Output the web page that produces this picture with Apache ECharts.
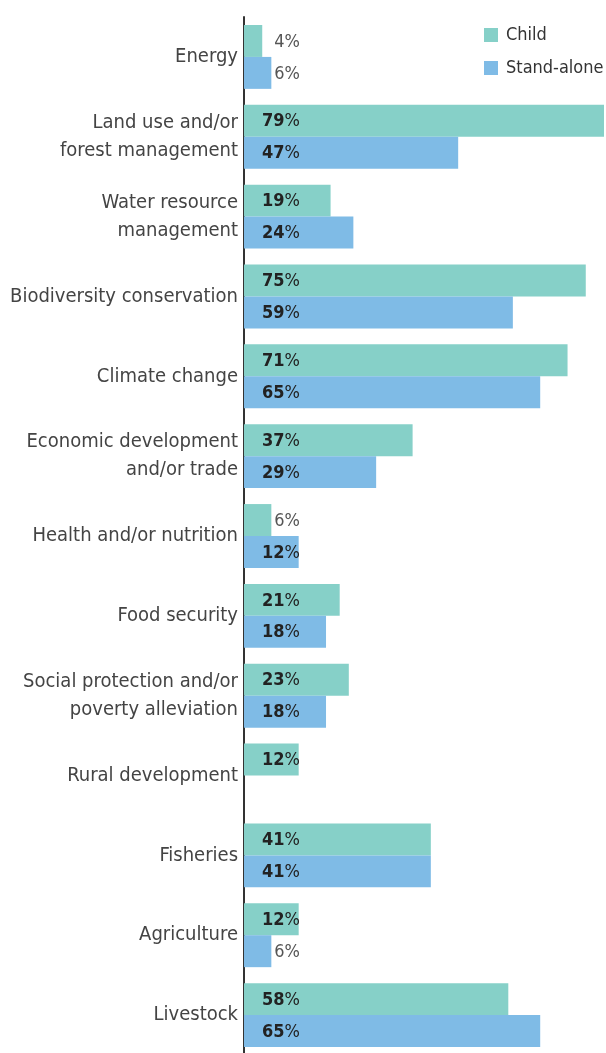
<!DOCTYPE html>
<html>
<head>
<meta charset="utf-8">
<script src="https://cdn.jsdelivr.net/npm/echarts@6/dist/echarts.min.js"></script>
<style>
  html, body { margin: 0; padding: 0; background: #fff; }
  #chart { width: 606px; height: 1053px; }
</style>
</head>
<body>
<div id="chart"></div>
<script>
const categories = [
  'Energy',
  'Land use and/or\nforest management',
  'Water resource\nmanagement',
  'Biodiversity conservation',
  'Climate change',
  'Economic development\nand/or trade',
  'Health and/or nutrition',
  'Food security',
  'Social protection and/or\npoverty alleviation',
  'Rural development',
  'Fisheries',
  'Agriculture',
  'Livestock'
];
const childValues      = [4, 79, 19, 75, 71, 37, 6, 21, 23, 12, 41, 12, 58];
const standAloneValues = [6, 47, 24, 59, 65, 29, 12, 18, 18, null, 41, 6, 65];

const FONT = '"DejaVu Sans Condensed", sans-serif';

// small values sit outside the bar in light grey, the rest inside in bold
function valueLabel(v) {
  if (v === null) return '';
  return v < 10 ? '{s|' + v + '%}' : '{b|' + v + '}{p|%}';
}

const labelCfg = {
  show: true,
  position: 'insideLeft',
  align: 'right',
  distance: 0,
  offset: [56, 1],
  fontFamily: FONT,
  formatter: p => valueLabel(p.value),
  rich: {
    b: { fontFamily: FONT, fontSize: 18, fontWeight: 'bold', color: '#222' },
    p: { fontFamily: FONT, fontSize: 18, color: '#222' },
    s: { fontFamily: FONT, fontSize: 18, color: '#555' }
  }
};

const chart = echarts.init(document.getElementById('chart'), null, { renderer: 'canvas' });
chart.setOption({
  animation: false,
  legend: {
    orient: 'vertical',
    left: 484,
    top: 26,
    padding: 0,
    itemWidth: 14,
    itemHeight: 14,
    itemGap: 15,
    icon: 'rect',
    textStyle: { fontFamily: FONT, fontSize: 18, color: '#333', lineHeight: 18, padding: [0, 0, 0, 3] },
    data: ['Child', 'Stand-alone']
  },
  grid: { left: 244, right: 2, top: 17, bottom: -2, containLabel: false, outerBoundsMode: 'none' },
  xAxis: {
    type: 'value',
    min: 0,
    max: 79,
    show: false
  },
  yAxis: {
    type: 'category',
    data: categories,
    inverse: true,
    axisLine: { show: true, lineStyle: { color: '#333', width: 2 } },
    axisTick: { show: false },
    axisLabel: {
      fontFamily: FONT,
      fontSize: 20,
      lineHeight: 28,
      color: '#444',
      margin: 6,
      align: 'right'
    }
  },
  series: [
    {
      name: 'Child',
      type: 'bar',
      data: childValues,
      barGap: '0%',
      barCategoryGap: '20%',
      itemStyle: { color: '#86d0c8' },
      label: labelCfg
    },
    {
      name: 'Stand-alone',
      type: 'bar',
      data: standAloneValues,
      barGap: '0%',
      barCategoryGap: '20%',
      itemStyle: { color: '#7fbbe6' },
      label: labelCfg
    }
  ]
});
</script>
</body>
</html>
